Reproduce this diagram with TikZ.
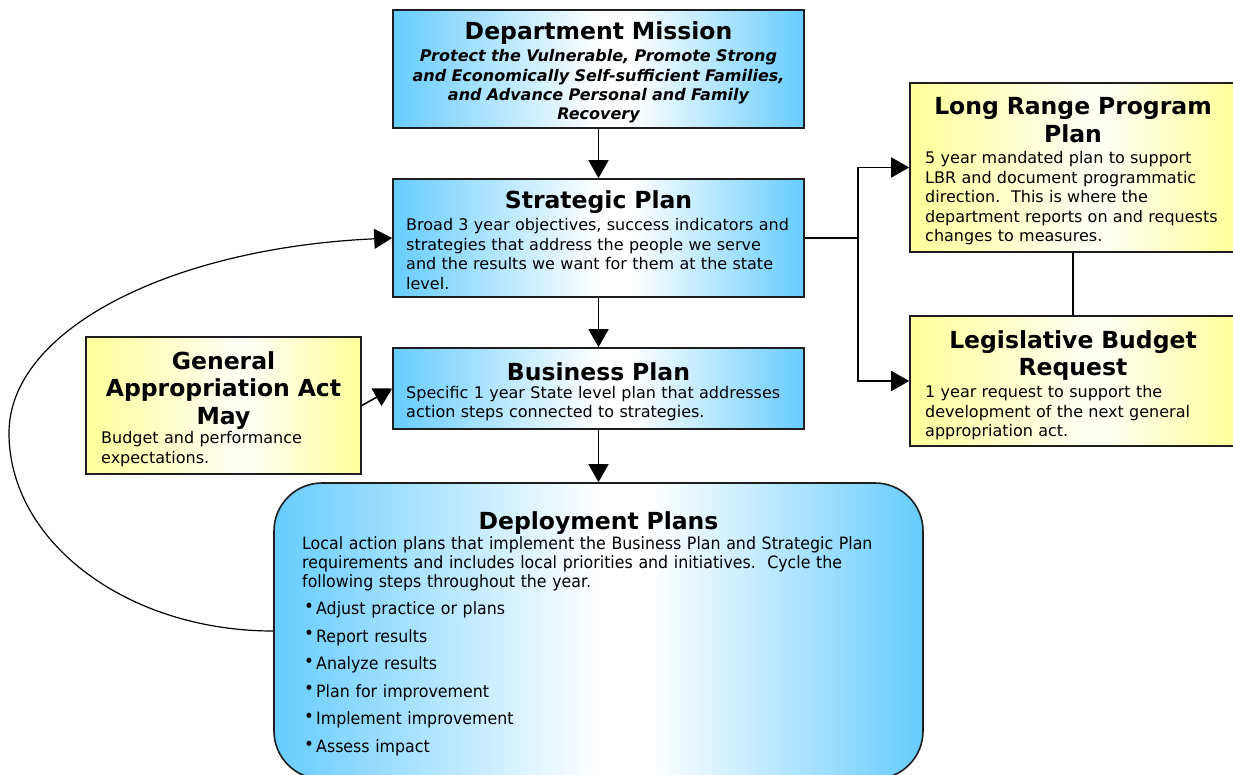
\documentclass[tikz,border=0pt]{standalone}
\usepackage{fontspec}
\setmainfont{DejaVu Sans}
\newfontfamily\narrowfont[FakeStretch=0.93]{DejaVu Sans}
\usetikzlibrary{arrows.meta}

\definecolor{skyblue}{HTML}{66CCFF}
\definecolor{paleyellow}{HTML}{FFFF99}
\definecolor{softwhite}{HTML}{FFFFF4}
\definecolor{edgegray}{HTML}{1E1E1E}

% horizontal fills: coloured edges, pale centre
\pgfdeclarehorizontalshading{bluefade}{100bp}{color(0bp)=(skyblue); color(25bp)=(skyblue); color(50bp)=(white); color(54bp)=(white); color(75bp)=(skyblue); color(100bp)=(skyblue)}
\pgfdeclarehorizontalshading{yellowfade}{100bp}{color(0bp)=(paleyellow); color(25bp)=(paleyellow); color(52bp)=(softwhite); color(55bp)=(softwhite); color(75bp)=(paleyellow); color(100bp)=(paleyellow)}

\newcommand\listdot{\makebox[12pt][l]{\raisebox{2.5pt}{\fontsize{18}{18}\selectfont •}}}

\tikzset{
  box/.style={draw=edgegray, line width=1.6pt, inner sep=0pt},
  bluebox/.style={box, shade, shading=bluefade},
  yellowbox/.style={box, shade, shading=yellowfade},
  heading/.style={font=\fontsize{23.5}{28}\selectfont\bfseries, text width=400pt,
    align=center, inner sep=0pt, anchor=base},
  motto/.style={font=\fontsize{16}{19.2}\selectfont\bfseries\itshape, text width=400pt,
    align=center, inner sep=0pt, anchor=base},
  body/.style={font=\fontsize{16}{19.6}\selectfont, text width=430pt,
    align=left, inner sep=0pt, anchor=base west},
  narrowbody/.style={font=\narrowfont\fontsize{17}{19}\selectfont, text width=620pt,
    align=left, inner sep=0pt, anchor=base west},
  steps/.style={font=\narrowfont\fontsize{17}{27.6}\selectfont, text width=300pt,
    align=left, inner sep=0pt, anchor=base west},
  link/.style={line width=1.6pt, draw=black},
  arr/.style={link, -{Triangle[length=18pt,width=20pt]}},
  looparr/.style={line width=1.2pt, draw=black, -{Triangle[length=18pt,width=20pt]}},
}

\begin{document}
\begin{tikzpicture}[x=1pt, y=-1pt]
\clip (0,0) rectangle (1233,775);

% ---- boxes ----
\node[bluebox, minimum width=411pt, minimum height=118pt] (dm) at (598.5,69) {};
\node[bluebox, minimum width=411pt, minimum height=118pt] (sp) at (598.5,238) {};
\node[bluebox, minimum width=411pt, minimum height=81pt] (bp) at (598.5,388.5) {};
\node[yellowbox, minimum width=275pt, minimum height=137pt] (gaa) at (223.5,405.5) {};
\node[yellowbox, minimum width=326pt, minimum height=169pt] (lrpp) at (1073,167.5) {};
\node[yellowbox, minimum width=326pt, minimum height=130pt] (lbr) at (1073,381) {};
\node[bluebox, rounded corners=48pt, minimum width=649pt, minimum height=296pt] (dep) at (598.5,631) {};

% ---- texts ----
\node[heading] (dmtitle) at (598.5,40) {Department Mission};
\node[motto] (dmtext) at (598.5,62) {Protect the Vulnerable, Promote Strong\\
  and Economically Self-sufficient Families,\\ and Advance Personal and Family\\ Recovery};

\node[heading] (sptitle) at (598.5,209) {Strategic Plan};
\node[body] (sptext) at (406,230.5) {Broad 3 year objectives, success indicators and\\
  strategies that address the people we serve\\ and the results we want for them at the state\\ level.};

\node[heading] (bptitle) at (598.5,380) {Business Plan};
\node[body, font=\fontsize{16}{19}\selectfont] (bptext) at (406,398.5) {Specific 1 year State level plan that addresses\\
  action steps connected to strategies.};

\node[heading, font=\fontsize{23.5}{27.5}\selectfont\bfseries] (gaatitle) at (223.5,369) {General\\ Appropriation Act\\ May};
\node[body, font=\fontsize{16}{20}\selectfont] (gaatext) at (101,443.5) {Budget and performance\\ expectations.};

\node[heading] (lrpptitle) at (1073,115) {Long Range Program\\ Plan};
\node[body] (lrpptext) at (925,163.5) {5 year mandated plan to support\\ LBR and document programmatic\\
  direction.\ \ This is where the\\ department reports on and requests\\ changes to measures.};

\node[heading] (lbrtitle) at (1073,348) {Legislative Budget\\ Request};
\node[body, font=\fontsize{16}{19.5}\selectfont] (lbrtext) at (925,397.5) {1 year request to support the\\
  development of the next general\\ appropriation act.};

\node[heading] (deptitle) at (598.5,529) {Deployment Plans};
\node[narrowbody] (deptext) at (302,549.5) {Local action plans that implement the Business Plan and Strategic Plan\\
  requirements and includes local priorities and initiatives.\ \ Cycle the\\ following steps throughout the year.};
\node[steps] (depsteps) at (304,614.5) {\listdot Adjust practice or plans\\ \listdot Report results\\
  \listdot Analyze results\\ \listdot Plan for improvement\\ \listdot Implement improvement\\ \listdot Assess impact};

% ---- connectors ----
\draw[arr] (dm.south) -- (sp.north);
\draw[arr] (sp.south) -- (bp.north);
\draw[arr] (bp.south) -- (dep.north);
\draw[arr] (gaa.east) -- (bp.west);

\coordinate (fork) at (858,238);
\draw[link] (sp.east) -- (fork);
\draw[arr] (fork) |- (lrpp.west);
\draw[arr] (fork) |- (lbr.west);
\draw[link] (lrpp.south) -- (lbr.north);

\coordinate (loopleft) at (9,433);
\draw[looparr] (dep.west) .. controls (127,631) and (9,542) .. (loopleft)
  .. controls (9,330) and (170,248) .. (sp.west);
\end{tikzpicture}
\end{document}
